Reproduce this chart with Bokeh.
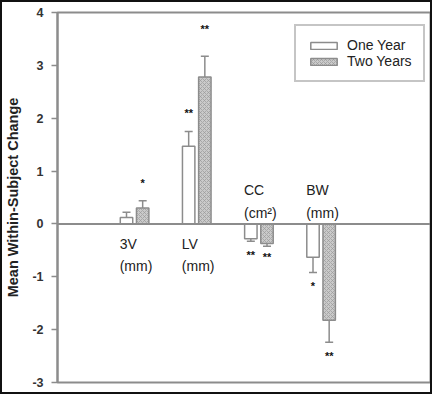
import numpy as np
from bokeh.plotting import figure
from bokeh.models import (Range1d, FixedTicker, Span, Legend, LegendItem,
                          ColumnDataSource, PrintfTickFormatter)
from bokeh.core.properties import value
from bokeh.embed import file_html
from bokeh.resources import INLINE

# ---- data ----
categories = ["3V", "LV", "CC", "BW"]
cat_labels = ["3V\n(mm)", "LV\n(mm)", "CC\n(cm\u00b2)", "BW\n(mm)"]
label_y = [-0.22, -0.22, 0.79, 0.79]
one_year = [0.12, 1.47, -0.28, -0.63]
one_year_err = [0.10, 0.28, 0.05, 0.29]
two_years = [0.30, 2.78, -0.37, -1.82]
two_years_err = [0.14, 0.39, 0.05, 0.42]
one_year_sig = ["", "**", "**", "*"]
one_year_sig_y = [0.0, 2.10, -0.58, -1.18]
two_years_sig = ["*", "**", "**", "**"]
two_years_sig_y = [0.77, 3.68, -0.62, -2.50]
y_ticks = [-3, -2, -1, 0, 1, 2, 3, 4]

FONT = "Liberation Sans"
GRAY = "#8c8c8c"

pos = np.arange(1, len(categories) + 1)
off = 0.13
x1 = pos - off
x2 = pos + off


def err_end(vals, errs):
    v = np.array(vals); e = np.array(errs)
    return v + np.sign(v) * e


src1 = ColumnDataSource(dict(x=x1, top=one_year, end=err_end(one_year, one_year_err),
                             sig=one_year_sig, sig_y=one_year_sig_y))
src2 = ColumnDataSource(dict(x=x2, top=two_years, end=err_end(two_years, two_years_err),
                             sig=two_years_sig, sig_y=two_years_sig_y))
lab_src = ColumnDataSource(dict(x=pos - 0.24, y=label_y, text=cat_labels))

p = figure(width=428, height=390, output_backend="svg", toolbar_location=None,
           x_range=Range1d(-0.24, 5.76), y_range=Range1d(-3, 4),
           min_border_left=51, min_border_right=4, min_border_top=10, min_border_bottom=14,
           background_fill_color="white", border_fill_color="white")
p.styles = {"border": "2px solid #111", "box-sizing": "content-box"}

p.xaxis.visible = False
p.xgrid.visible = False
p.ygrid.visible = False
p.outline_line_color = GRAY
p.outline_line_width = 2

ax = p.yaxis[0]
ax.ticker = FixedTicker(ticks=y_ticks)
ax.formatter = PrintfTickFormatter(format="%d")
ax.axis_label = "Mean Within-Subject Change"
ax.axis_label_text_font = FONT
ax.axis_label_text_font_size = "14.5px"
ax.axis_label_text_font_style = "bold"
ax.axis_label_text_color = "#222"
ax.axis_label_standoff = 8
ax.major_label_text_font = FONT
ax.major_label_text_font_size = "12.5px"
ax.major_label_text_font_style = "bold"
ax.major_label_text_color = "#333"
ax.major_label_standoff = 8
ax.axis_line_color = GRAY
ax.axis_line_width = 2
ax.major_tick_line_color = GRAY
ax.major_tick_line_width = 1.5
ax.major_tick_in = 0
ax.major_tick_out = 6
ax.minor_tick_line_color = None

# error stems (drawn behind bars) and caps
for s in (src1, src2):
    p.segment(x0="x", y0=0, x1="x", y1="end", source=s, line_color=GRAY, line_width=1.5)
    p.scatter(x="x", y="end", source=s, marker="dash", size=8, line_color=GRAY, line_width=1.5)

r1 = p.vbar(x="x", top="top", bottom=0, width=0.2, source=src1,
            fill_color="white", line_color=GRAY, line_width=1.5)
r2 = p.vbar(x="x", top="top", bottom=0, width=0.2, source=src2,
            fill_color="#cacaca", line_color=GRAY, line_width=1.5,
            hatch_pattern="x", hatch_scale=4, hatch_color="#999999", hatch_weight=0.7)

p.add_layout(Span(location=0, dimension="width", line_color=GRAY, line_width=2))

# significance stars
for s in (src1, src2):
    p.text(x="x", y="sig_y", text="sig", source=s, text_font=value(FONT),
           text_font_size="11px", text_font_style="bold", text_color="#111",
           text_align="center", text_baseline="middle")

# category labels
p.text(x="x", y="y", text="text", source=lab_src, text_font=value(FONT),
       text_font_size="14px", text_color="#222", text_align="left",
       text_baseline="top", text_line_height=1.4)

legend = Legend(items=[LegendItem(label="One Year", renderers=[r1]),
                       LegendItem(label="Two Years", renderers=[r2])],
                location=(237, 300))
legend.label_text_font = FONT
legend.label_text_font_size = "14px"
legend.label_text_color = "#222"
legend.glyph_width = 33
legend.glyph_height = 9
legend.label_height = 16
legend.label_standoff = 7
legend.padding = 11
legend.spacing = 0
legend.margin = 0
legend.border_line_color = GRAY
legend.border_line_width = 2
legend.background_fill_color = "white"
p.add_layout(legend)

open("out.html", "w").write(file_html(p, INLINE))
